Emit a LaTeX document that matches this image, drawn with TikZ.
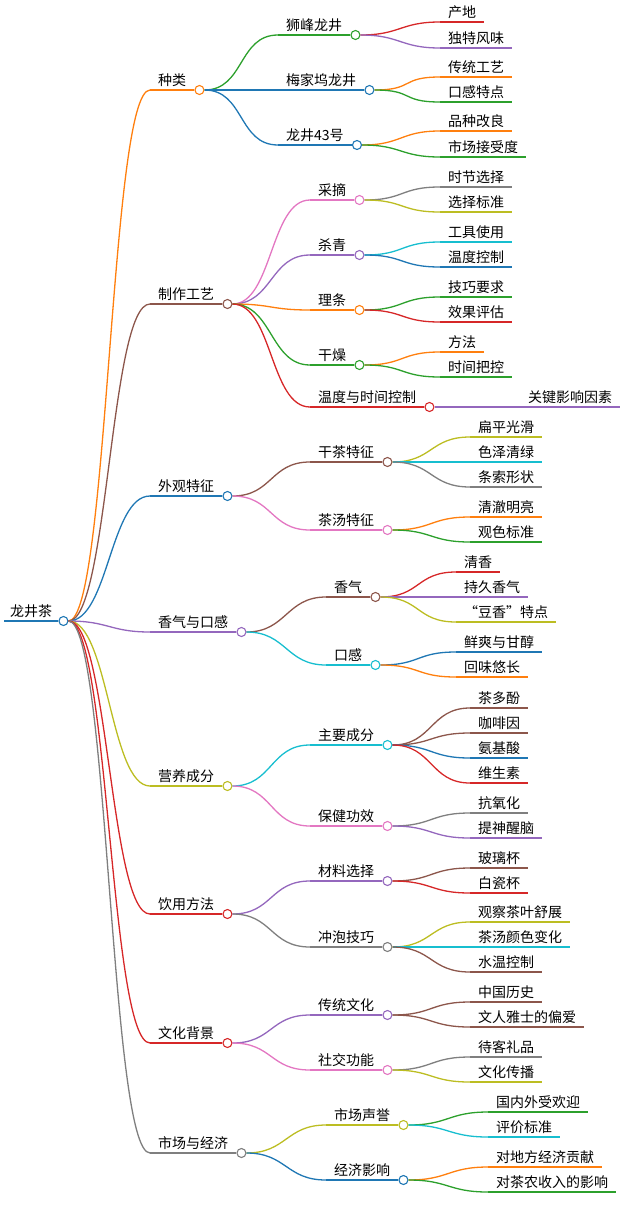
\documentclass[tikz,border=0pt]{standalone}
\usepackage{fontspec}
\setmainfont{Noto Sans CJK SC}
\usetikzlibrary{positioning}
\definecolor{corange}{HTML}{FF7F0E}
\definecolor{cbrown}{HTML}{8C564B}
\definecolor{cblue}{HTML}{1F77B4}
\definecolor{cpurple}{HTML}{9467BD}
\definecolor{colive}{HTML}{BCBD22}
\definecolor{cred}{HTML}{D62728}
\definecolor{cgray}{HTML}{7F7F7F}
\definecolor{cgreen}{HTML}{2CA02C}
\definecolor{cpink}{HTML}{E377C2}
\definecolor{ccyan}{HTML}{17BECF}
\tikzset{
  lbl/.style={anchor=south west, inner xsep=8pt, inner ysep=3pt, font=\fontsize{14}{16}\selectfont},
  dot/.style={circle, draw, fill=white, line width=1.1pt, minimum size=9pt, inner sep=0pt, anchor=west},
  edge/.style={line width=1.3pt}
}
% inner node: parent, name, x, y, colour, text
\newcommand{\topic}[6]{%
  \node[lbl] (#2) at (#3,#4) {#6};
  \draw[edge, #5] (#1c.east) .. controls +(40,0) and +(-40,0) .. (#2.south west);
  \draw[edge, #5] (#2.south west) -- (#2.south east) node[dot, draw=#5] (#2c) {};
}
% leaf: parent, name, x, y, colour, text
\newcommand{\leaf}[6]{%
  \node[lbl] (#2) at (#3,#4) {#6};
  \draw[edge, #5] (#1c.east) .. controls +(40,0) and +(-40,0) .. (#2.south west);
  \draw[edge, #5] (#2.south west) -- (#2.south east);
}
\begin{document}
\begin{tikzpicture}[x=1pt, y=-1pt]
    \useasboundingbox (0,0) rectangle (639,1231);
    % root
    \node[lbl, inner xsep=6pt] (root) at (4,621) {龙井茶};
    \draw[cblue, line width=2.5pt] (root.south west) -- (root.south east) node[dot, draw=cblue] (rootc) {};

    % 种类
    \topic{root}{kind}{150}{90}{corange}{种类}
    \topic{kind}{shifeng}{278}{35}{cgreen}{狮峰龙井}
    \leaf{shifeng}{origin}{440}{22}{cred}{产地}
    \leaf{shifeng}{flavor}{440}{48}{cpurple}{独特风味}
    \topic{kind}{meijia}{278}{90}{cblue}{梅家坞龙井}
    \leaf{meijia}{craft}{440}{77}{corange}{传统工艺}
    \leaf{meijia}{mouth}{440}{102}{cgreen}{口感特点}
    \topic{kind}{lj43}{278}{145}{cblue}{龙井43号}
    \leaf{lj43}{breed}{440}{131}{corange}{品种改良}
    \leaf{lj43}{market}{440}{157}{cgreen}{市场接受度}

    % 制作工艺
    \topic{root}{make}{150}{304}{cbrown}{制作工艺}
    \topic{make}{pick}{310}{200}{cpink}{采摘}
    \leaf{pick}{season}{440}{187}{cgray}{时节选择}
    \leaf{pick}{rule}{440}{212}{colive}{选择标准}
    \topic{make}{fix}{310}{255}{cpurple}{杀青}
    \leaf{fix}{tool}{440}{242}{ccyan}{工具使用}
    \leaf{fix}{temp}{440}{267}{cblue}{温度控制}
    \topic{make}{shape}{310}{310}{corange}{理条}
    \leaf{shape}{skill}{440}{297}{cgreen}{技巧要求}
    \leaf{shape}{eval}{440}{322}{cred}{效果评估}
    \topic{make}{dry}{310}{365}{cgreen}{干燥}
    \leaf{dry}{method}{440}{352}{corange}{方法}
    \leaf{dry}{timing}{440}{377}{cgreen}{时间把控}
    \topic{make}{tt}{310}{407}{cred}{温度与时间控制}
    \leaf{tt}{key}{520}{407}{cpurple}{关键影响因素}

    % 外观特征
    \topic{root}{look}{150}{496}{cblue}{外观特征}
    \topic{look}{drytea}{310}{462}{cbrown}{干茶特征}
    \leaf{drytea}{flat}{470}{437}{colive}{扁平光滑}
    \leaf{drytea}{green}{470}{462}{ccyan}{色泽清绿}
    \leaf{drytea}{strip}{470}{487}{cgray}{条索形状}
    \topic{look}{soup}{310}{530}{cpink}{茶汤特征}
    \leaf{soup}{clear}{470}{517}{corange}{清澈明亮}
    \leaf{soup}{color}{470}{542}{cgreen}{观色标准}

    % 香气与口感
    \topic{root}{aroma}{150}{632}{cpurple}{香气与口感}
    \topic{aroma}{smell}{326}{597}{cbrown}{香气}
    \leaf{smell}{fresh}{456}{572}{cred}{清香}
    \leaf{smell}{lasting}{456}{597}{cpurple}{持久香气}
    \leaf{smell}{bean}{456}{622}{colive}{“豆香”特点}
    \topic{aroma}{taste}{326}{665}{ccyan}{口感}
    \leaf{taste}{sweet}{456}{652}{cblue}{鲜爽与甘醇}
    \leaf{taste}{after}{456}{677}{corange}{回味悠长}

    % 营养成分
    \topic{root}{nutri}{150}{786}{colive}{营养成分}
    \topic{nutri}{main}{310}{745}{ccyan}{主要成分}
    \leaf{main}{poly}{470}{708}{cbrown}{茶多酚}
    \leaf{main}{caff}{470}{733}{cbrown}{咖啡因}
    \leaf{main}{amino}{470}{758}{cblue}{氨基酸}
    \leaf{main}{vita}{470}{783}{cred}{维生素}
    \topic{nutri}{health}{310}{826}{cpink}{保健功效}
    \leaf{health}{anti}{470}{813}{cgray}{抗氧化}
    \leaf{health}{awake}{470}{838}{cpurple}{提神醒脑}

    % 饮用方法
    \topic{root}{drink}{150}{914}{cred}{饮用方法}
    \topic{drink}{mat}{310}{881}{cpurple}{材料选择}
    \leaf{mat}{glass}{470}{868}{cbrown}{玻璃杯}
    \leaf{mat}{china}{470}{893}{cred}{白瓷杯}
    \topic{drink}{brew}{310}{947}{cgray}{冲泡技巧}
    \leaf{brew}{watch}{470}{922}{colive}{观察茶叶舒展}
    \leaf{brew}{change}{470}{947}{ccyan}{茶汤颜色变化}
    \leaf{brew}{water}{470}{972}{cbrown}{水温控制}

    % 文化背景
    \topic{root}{cult}{150}{1043}{cred}{文化背景}
    \topic{cult}{trad}{310}{1015}{cpurple}{传统文化}
    \leaf{trad}{hist}{470}{1002}{cbrown}{中国历史}
    \leaf{trad}{liter}{470}{1027}{cbrown}{文人雅士的偏爱}
    \topic{cult}{social}{310}{1070}{cpink}{社交功能}
    \leaf{social}{gift}{470}{1057}{cgray}{待客礼品}
    \leaf{social}{spread}{470}{1082}{colive}{文化传播}

    % 市场与经济
    \topic{root}{econ}{150}{1153}{cgray}{市场与经济}
    \topic{econ}{fame}{326}{1125}{colive}{市场声誉}
    \leaf{fame}{popular}{488}{1112}{cgreen}{国内外受欢迎}
    \leaf{fame}{judge}{488}{1137}{ccyan}{评价标准}
    \topic{econ}{impact}{326}{1180}{cblue}{经济影响}
    \leaf{impact}{local}{488}{1167}{corange}{对地方经济贡献}
    \leaf{impact}{farmer}{488}{1192}{cgreen}{对茶农收入的影响}
\end{tikzpicture}
\end{document}
